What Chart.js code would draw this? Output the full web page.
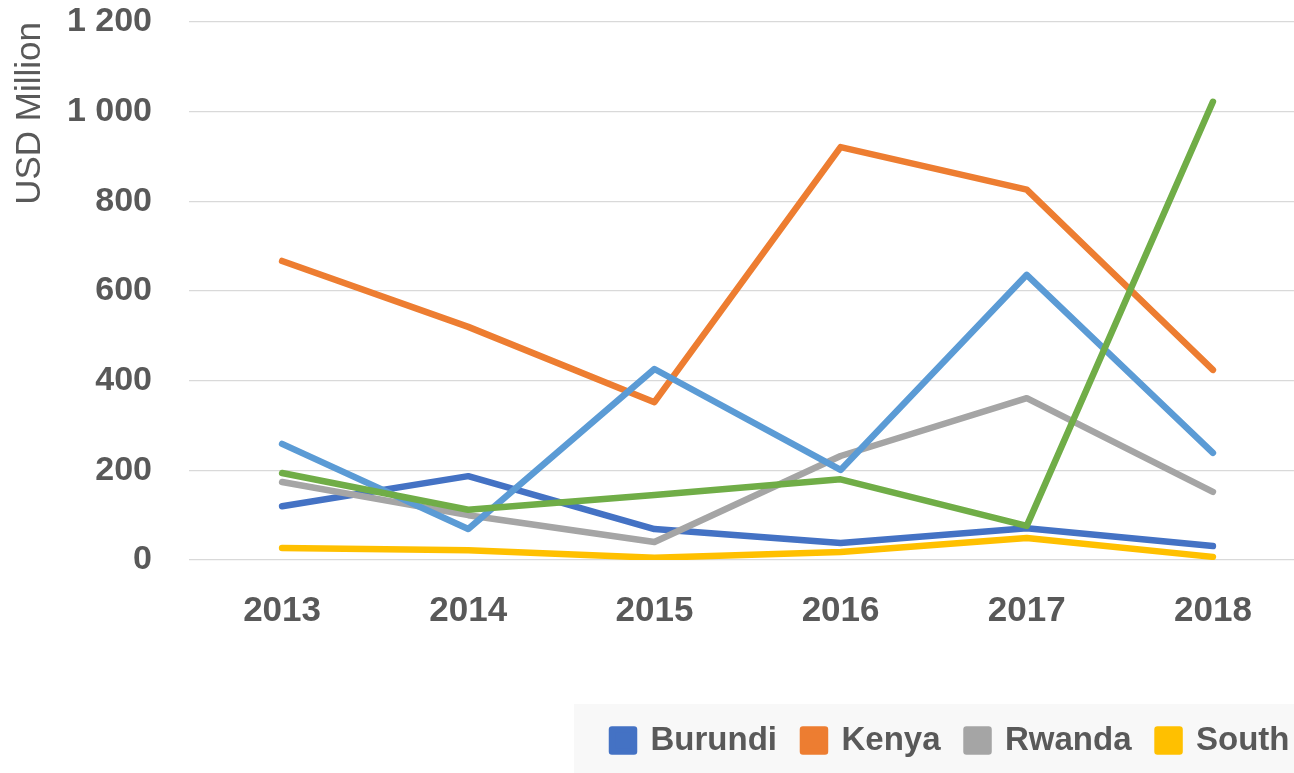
<!DOCTYPE html>
<html>
<head>
<meta charset="utf-8">
<script src="https://cdn.jsdelivr.net/npm/chart.js@4.4.1/dist/chart.umd.min.js"></script>
<style>
  html, body { margin: 0; padding: 0; background: #fff; overflow: hidden; }
  #wrap { position: relative; width: 1294px; height: 773px; overflow: hidden; }
  #box { position: absolute; left: 0; top: 0; width: 1310px; height: 773px; }
</style>
</head>
<body>
<div id="wrap">
  <div id="box"><canvas id="myChart"></canvas></div>
</div>
<script>
// data (USD million)
const years = ['2013', '2014', '2015', '2016', '2017', '2018']
const countries = ['Burundi', 'Kenya', 'Rwanda', 'South Sudan', 'Tanzania', 'Uganda']
const colors = ['#4472C4', '#ED7D31', '#A5A5A5', '#FFC000', '#5B9BD5', '#70AD47']
const burundi = [120, 187, 69, 38, 71, 31]
const kenya = [667, 520, 352, 921, 826, 424]
const rwanda = [174, 100, 40, 232, 361, 152]
const southSudan = [27, 22, 5, 18, 49, 7]
const tanzania = [259, 69, 426, 201, 636, 239]
const uganda = [194, 112, 145, 180, 76, 1022]
const yTicks = [0, 200, 400, 600, 800, 1000, 1200]

const series = [burundi, kenya, rwanda, southSudan, tanzania, uganda]
const grey = '#595959'

// legend sits in a grey band that starts right of centre
const legendBand = {
  id: 'legendBand',
  afterLayout(chart) {
    const lg = chart.legend
    lg.left = 612 - lg.options.labels.padding
    lg.right = 5000
    lg.top -= 6
  },
  beforeDraw(chart) {
    const ctx = chart.ctx
    ctx.save()
    ctx.fillStyle = '#f8f8f8'
    ctx.fillRect(574, 704, chart.width, 200)
    ctx.restore()
  }
}

const datasets = series.map((vals, i) => ({
  label: countries[i],
  data: vals,
  borderColor: colors[i],
  backgroundColor: colors[i],
  borderWidth: 6.5,
  borderCapStyle: 'round',
  borderJoinStyle: 'round',
  pointRadius: 0,
  tension: 0,
  order: series.length - i
}))

const ctx = document.getElementById('myChart').getContext('2d')
const myChart = new Chart(ctx, {
  type: 'line',
  data: { labels: years, datasets: datasets },
  plugins: [legendBand],
  options: {
    responsive: true,
    maintainAspectRatio: false,
    animation: false,
    layout: { padding: { left: 9, right: 4, top: 22, bottom: 0 } },
    plugins: {
      tooltip: { enabled: false },
      legend: {
        position: 'bottom',
        align: 'start',
        labels: {
          boxWidth: 22,
          boxHeight: 22,
          padding: 26,
          color: grey,
          font: { family: 'Liberation Sans', size: 33, weight: 'bold' },
          sort: (a, b) => a.datasetIndex - b.datasetIndex
        }
      }
    },
    scales: {
      x: {
        offset: true,
        grid: { display: false, drawTicks: false },
        border: { display: false },
        ticks: {
          padding: 30,
          color: grey,
          font: { family: 'Liberation Sans', size: 35, weight: 'bold' }
        },
        afterFit(scale) { scale.height += 42 }
      },
      y: {
        min: 0,
        max: 1200,
        afterBuildTicks(scale) { scale.ticks = yTicks.map(v => ({ value: v })) },
        afterFit(scale) {
          scale.width = 180
          scale.paddingTop = 20
        },
        grid: { color: '#d9d9d9', lineWidth: 1.3, drawTicks: false },
        border: { display: false },
        ticks: {
          padding: 37,
          color: grey,
          font: { family: 'Liberation Sans', size: 34, weight: 'bold' },
          callback: v => String(v).replace(/\B(?=(\d{3})+(?!\d))/g, ' ')
        },
        title: {
          display: true,
          text: 'USD Million',
          align: 'end',
          color: grey,
          padding: { top: 0, bottom: 16 },
          font: { family: 'Liberation Sans', size: 35 }
        }
      }
    }
  }
})
</script>
</body>
</html>
